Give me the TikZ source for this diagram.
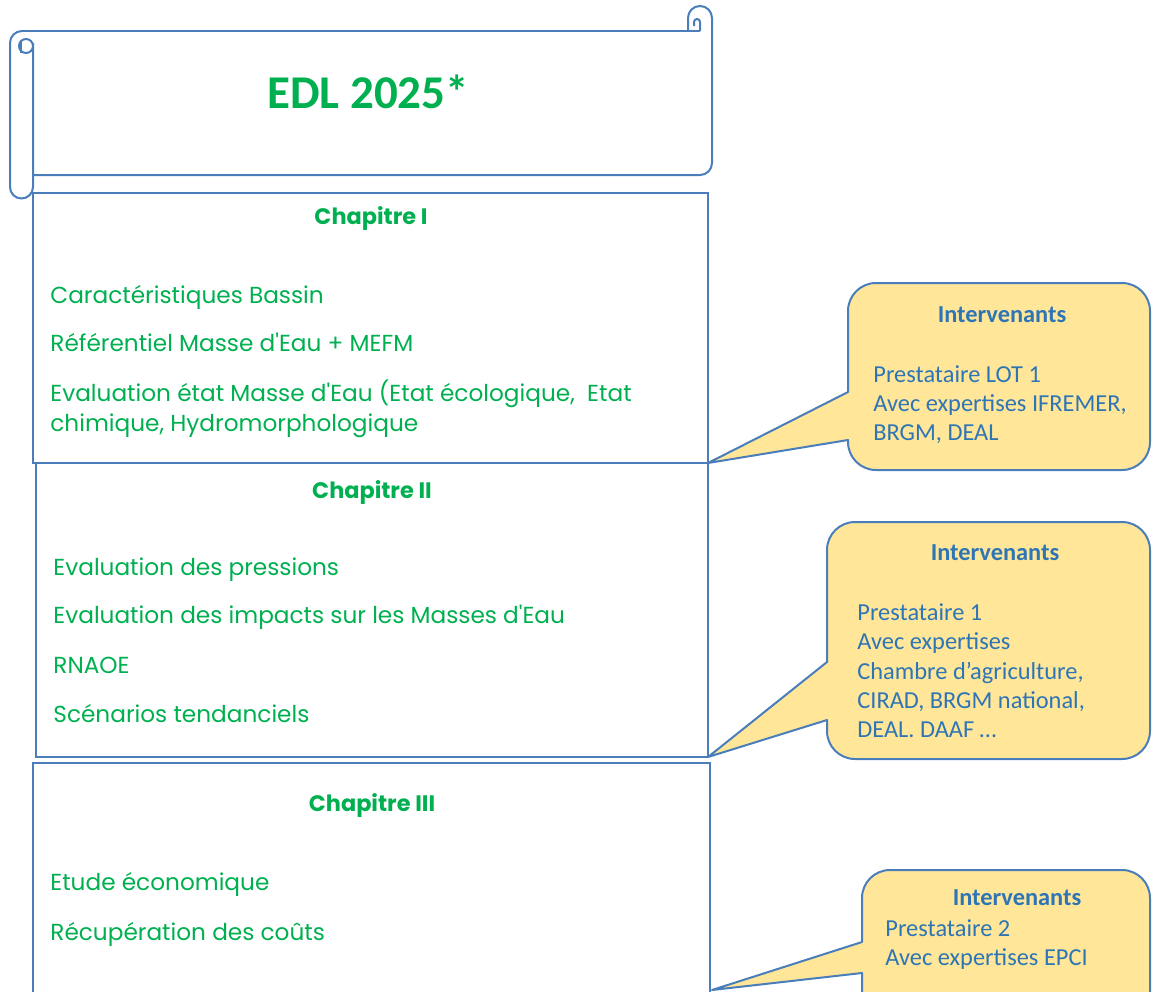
\documentclass[tikz,border=0pt]{standalone}
\usepackage{fontspec}
\setmainfont{Carlito}
\newfontfamily\gothic{Poppins}
\usepackage{tikz}

\definecolor{edlgreen}{HTML}{00B050}
\definecolor{edlblue}{HTML}{2E75B6}
\definecolor{edlline}{HTML}{4A7EBB}
\definecolor{edlfill}{HTML}{FFE699}

\tikzset{
  scroll/.style={draw=edlline, line width=1pt, line join=round},
  chapbox/.style={draw=edlline, line width=1pt},
  bubble/.style={draw=edlline, fill=edlfill, line width=1pt, line join=round},
  chaptitle/.style={anchor=base, font=\gothic\bfseries\fontsize{11.2}{13}\selectfont, text=edlgreen},
  chapitem/.style={anchor=base west, font=\gothic\fontsize{11.6}{13}\selectfont, text=edlgreen},
  whotitle/.style={anchor=base, font=\bfseries\fontsize{12.2}{14}\selectfont, text=edlblue},
  whoitem/.style={anchor=base west, font=\fontsize{12.2}{14}\selectfont, text=edlblue},
}

\begin{document}
\begin{tikzpicture}[x=0.5pt,y=0.5pt]
\tikzset{every node/.append style={inner sep=0pt}}
\useasboundingbox (0,0) rectangle (1153,-992);
\clip (0,0) rectangle (1153,-992);

% scroll
\draw [scroll] (22,-31) -- (700,-31);
\draw [scroll] (688,-31) -- (688,-18) arc (180:0:12) -- (712,-163) arc (0:-90:12) -- (33,-175);
\draw [scroll] (700,-31) -- (700,-22) arc (0:180:3) -- (694,-26);
\draw [scroll] (22,-31) arc (90:180:12) -- (10,-187) arc (180:360:11.5) -- (33,-43);
\draw [scroll] (26,-46) circle (7);
\draw [scroll] (21,-42) -- (21,-53);
\node [anchor=base, font=\bfseries\fontsize{23.5}{28}\selectfont, text=edlgreen] (title) at (368,-108) {EDL 2025*};

% chapters
\draw [chapbox] (33,-193) rectangle (708,-463);
\draw [chapbox] (36,-463) rectangle (708,-757);
\draw [chapbox] (33,-763) rectangle (710,-1000);
\coordinate (c1) at (708,-463);
\coordinate (c2) at (708,-757);
\coordinate (c3) at (712,-990);

\node [chaptitle] (h1) at (371,-224) {Chapitre I};
\node [chapitem] (i11) at (50,-303) {Caractéristiques Bassin};
\node [chapitem] (i12) at (50,-351) {Référentiel Masse d'Eau + MEFM};
\node [chapitem] (i13) at (50,-401) {Evaluation état Masse d'Eau (Etat écologique,\ \ Etat};
\node [chapitem] (i14) at (50,-431) {chimique, Hydromorphologique};

\node [chaptitle] (h2) at (372,-498) {Chapitre II};
\node [chapitem] (i21) at (53,-575) {Evaluation des pressions};
\node [chapitem] (i22) at (53,-623) {Evaluation des impacts sur les Masses d'Eau};
\node [chapitem] (i23) at (53,-673) {RNAOE};
\node [chapitem] (i24) at (53,-722) {Scénarios tendanciels};

\node [chaptitle] (h3) at (372,-811) {Chapitre III};
\node [chapitem] (i31) at (50,-890) {Etude économique};
\node [chapitem] (i32) at (50,-940) {Récupération des coûts};

% callouts
\draw [bubble] (848,-392) -- (848,-311) arc (180:90:28) -- (1122,-283) arc (90:0:28) -- (1150,-442) arc (0:-90:28) -- (876,-470) arc (270:180:28) -- (848,-440) -- (c1) -- cycle;
\node [whotitle] (w1) at (1002,-322) {Intervenants};
\node [whoitem] (w11) at (873,-382) {Prestataire LOT 1};
\node [whoitem] (w12) at (873,-411) {Avec expertises IFREMER,};
\node [whoitem] (w13) at (873,-440) {BRGM,\ DEAL};

\draw [bubble] (827,-662) -- (827,-550) arc (180:90:28) -- (1122,-522) arc (90:0:28) -- (1150,-731) arc (0:-90:28) -- (855,-759) arc (270:180:28) -- (827,-720) -- (c2) -- cycle;
\node [whotitle] (w2) at (995,-560) {Intervenants};
\node [whoitem] (w21) at (857,-620) {Prestataire 1};
\node [whoitem] (w22) at (857,-649) {Avec expertises};
\node [whoitem] (w23) at (857,-679) {Chambre d’agriculture,};
\node [whoitem] (w24) at (857,-708) {CIRAD, BRGM national,};
\node [whoitem] (w25) at (857,-737) {DEAL. DAAF …};

\draw [bubble] (862,-942) -- (862,-898) arc (180:90:28) -- (1122,-870) arc (90:0:28) -- (1150,-1010) -- (862,-1010) -- (862,-973) -- (c3) -- cycle;
\node [whotitle] (w3) at (1017,-905) {Intervenants};
\node [whoitem] (w31) at (885,-936) {Prestataire 2};
\node [whoitem] (w32) at (885,-965) {Avec expertises EPCI};
\end{tikzpicture}
\end{document}
